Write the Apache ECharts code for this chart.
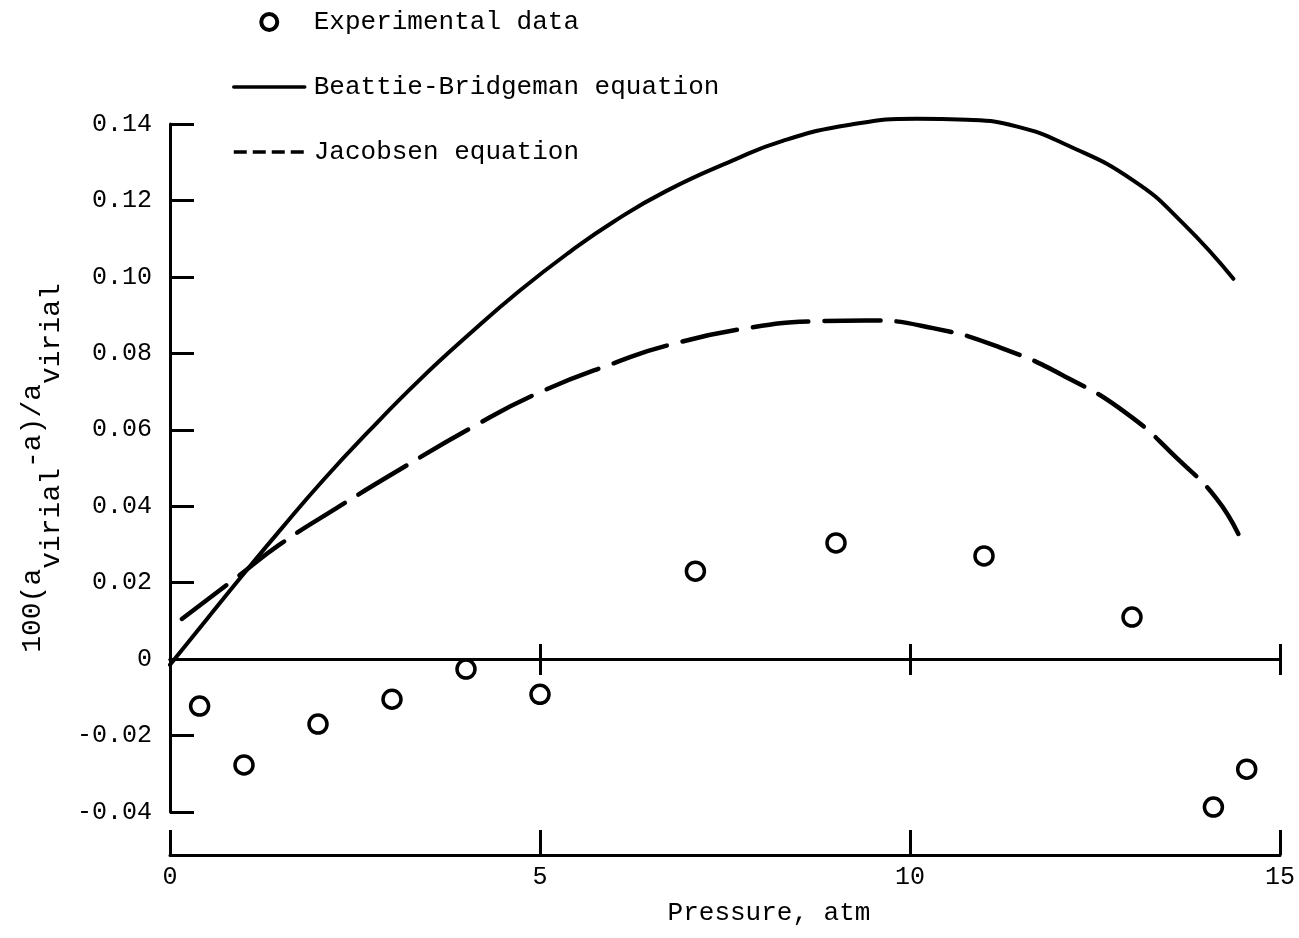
<!DOCTYPE html>
<html>
<head>
<meta charset="utf-8">
<script src="https://cdn.jsdelivr.net/npm/echarts@6/dist/echarts.min.js"></script>
<style>
html,body{margin:0;padding:0;background:#fff;}
#chart{width:1299px;height:938px;}
</style>
</head>
<body>
<div id="chart"></div>
<script>
// ---- data ----
var seriesNames = ['Experimental data', 'Beattie-Bridgeman equation', 'Jacobsen equation'];

var expPressure = [0.4, 1.0, 2.0, 3.0, 4.0, 5.0, 7.1, 9.0, 11.0, 13.0, 14.1, 14.55];
var expValue    = [-0.0123, -0.0277, -0.017, -0.0105, -0.0026, -0.0092, 0.023, 0.0304, 0.027, 0.011, -0.0387, -0.0288];

var bbPressure = [0, 0.5, 1.11, 1.5, 2.06, 2.69, 3.37, 4.05, 4.72, 5.4, 6.0, 6.71, 7.6, 8.28, 9.19, 10.09, 10.77, 11.45, 12.12, 13.02, 13.69, 14.37];
var bbValue    = [-0.0015, 0.0105, 0.0250, 0.0340, 0.0466, 0.0597, 0.0730, 0.0851, 0.0963, 0.1065, 0.1145, 0.1225, 0.1304, 0.1356, 0.1398, 0.1414, 0.1411, 0.1393, 0.1345, 0.1252, 0.1140, 0.0995];

var jPressure = [0.16, 0.89, 1.47, 2.25, 3.14, 4.05, 4.95, 6.08, 6.71, 7.74, 8.74, 9.42, 10.31, 11.22, 12.12, 12.94, 13.61, 14.15, 14.47];
var jValue    = [0.0105, 0.0212, 0.0298, 0.0395, 0.0500, 0.0603, 0.0694, 0.0780, 0.0820, 0.0864, 0.0884, 0.0886, 0.0866, 0.0815, 0.0737, 0.0641, 0.0525, 0.0418, 0.0314];

var xMin = 0, xMax = 15, xStep = 5;
var yMin = -0.04, yMax = 0.14, yStep = 0.02;
var xTitle = 'Pressure, atm';
var yTitle = '{n|100(a}{s|virial}{n|-a)/a}{s|virial}';

function pairs(xs, ys) { return xs.map(function (x, i) { return [x, ys[i]]; }); }

var FONT = 'Liberation Mono';
var INK = '#000';

var chart = echarts.init(document.getElementById('chart'), null, {renderer: 'canvas'});

var yAxisBase = {
  type: 'value', min: yMin, max: yMax, interval: yStep,
  splitLine: {show: false}
};
var hidden = {color: 'rgba(0,0,0,0)', borderColor: 'rgba(0,0,0,0)', borderWidth: 0};

var option = {
  backgroundColor: '#fff',
  animation: false,
  textStyle: {fontFamily: FONT, color: INK},
  grid: {left: 170, right: 19, top: 124, bottom: 126, containLabel: false},
  legend: {
    orient: 'vertical', left: 232, top: 9, padding: 0,
    itemWidth: 71, itemHeight: 16, itemGap: 39,
    selectedMode: false,
    textStyle: {fontFamily: FONT, fontSize: 26, color: INK, lineHeight: 26, padding: [0, 0, 0, 4]},
    data: [
      {name: seriesNames[0], icon: 'circle', itemStyle: {color: 'rgba(0,0,0,0)', borderColor: INK, borderWidth: 4, opacity: 1}},
      {name: seriesNames[1], itemStyle: hidden, lineStyle: {width: 3.5, type: 'solid'}},
      {name: seriesNames[2], itemStyle: hidden, lineStyle: {width: 3.5, type: [13, 6], cap: 'butt'}}
    ]
  },
  xAxis: [
    { // bottom axis with labels
      type: 'value', min: xMin, max: xMax, interval: xStep,
      position: 'bottom', offset: 43,
      axisLine: {onZero: false, lineStyle: {color: INK, width: 3}},
      axisTick: {inside: true, length: 25, lineStyle: {color: INK, width: 3}},
      axisLabel: {fontFamily: FONT, fontSize: 25, color: INK, margin: 10},
      splitLine: {show: false},
      name: xTitle, nameLocation: 'middle', nameGap: 45,
      nameTextStyle: {fontFamily: FONT, fontSize: 26, color: INK, padding: [0, 0, 0, 88]}
    },
    { // zero line, ticks upward
      type: 'value', min: xMin, max: xMax, interval: xStep,
      position: 'bottom',
      axisLine: {onZero: true, onZeroAxisIndex: 0, lineStyle: {color: INK, width: 3}},
      axisTick: {inside: true, length: 15, lineStyle: {color: INK, width: 3}},
      axisLabel: {show: false},
      splitLine: {show: false}
    },
    { // zero line, ticks downward
      type: 'value', min: xMin, max: xMax, interval: xStep,
      position: 'bottom',
      axisLine: {onZero: true, onZeroAxisIndex: 1, lineStyle: {color: INK, width: 3}},
      axisTick: {inside: false, length: 16, lineStyle: {color: INK, width: 3}},
      axisLabel: {show: false},
      splitLine: {show: false}
    }
  ],
  yAxis: [
    Object.assign({}, yAxisBase, {
      position: 'left',
      axisLine: {onZero: false, lineStyle: {color: INK, width: 3}},
      axisTick: {inside: true, length: 24, lineStyle: {color: INK, width: 3}},
      axisLabel: {
        fontFamily: FONT, fontSize: 25, color: INK, margin: 18,
        formatter: function (v) { return Math.abs(v) < 1e-9 ? '0' : v.toFixed(2); }
      },
      name: yTitle, nameLocation: 'middle', nameGap: 104,
      nameTextStyle: {
        fontFamily: FONT, color: INK,
        rich: {
          n: {fontFamily: FONT, fontSize: 28, color: INK, lineHeight: 28, verticalAlign: 'top'},
          s: {fontFamily: FONT, fontSize: 28, color: INK, lineHeight: 47, verticalAlign: 'bottom'}
        }
      }
    }),
    Object.assign({}, yAxisBase, {show: false, position: 'right'})
  ],
  series: [
    {
      name: seriesNames[0], type: 'scatter', xAxisIndex: 0, yAxisIndex: 0,
      symbol: 'circle', symbolSize: 18,
      itemStyle: {color: 'rgba(0,0,0,0)', borderColor: INK, borderWidth: 3.5, opacity: 1},
      data: pairs(expPressure, expValue), z: 5
    },
    {
      name: seriesNames[1], type: 'line', xAxisIndex: 0, yAxisIndex: 0,
      symbol: 'none', smooth: 0.5, clip: false,
      lineStyle: {color: INK, width: 4, cap: 'round'},
      itemStyle: {color: INK},
      data: pairs(bbPressure, bbValue)
    },
    {
      name: seriesNames[2], type: 'line', xAxisIndex: 0, yAxisIndex: 0,
      symbol: 'none', smooth: 0.5, clip: false,
      lineStyle: {color: INK, width: 4.5, type: [56, 16], cap: 'round'},
      itemStyle: {color: INK},
      data: pairs(jPressure, jValue)
    }
  ]
};
chart.setOption(option);
</script>
</body>
</html>
